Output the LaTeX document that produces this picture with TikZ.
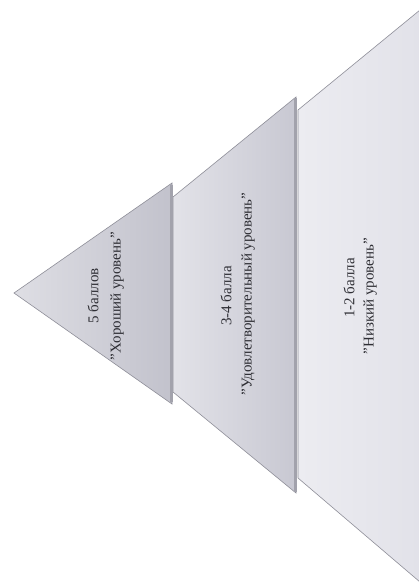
\documentclass[tikz,border=0pt]{standalone}
\usepackage{fontspec}
\setmainfont{Liberation Serif}
\definecolor{edgegray}{HTML}{8E8E98}
\definecolor{rimgray}{HTML}{A2A2AC}
\definecolor{txtgray}{HTML}{2E2E34}
\begin{document}
\begin{tikzpicture}[x=1pt,y=-1pt,
  tier/.style={draw=edgegray, line width=0.6pt, line join=miter},
  rim/.style={draw=rimgray, line width=2.4pt},
  lbl/.style={rotate=90, text=txtgray, inner sep=0pt, font=\fontsize{15}{18}\selectfont}]
\useasboundingbox (0,0) rectangle (419,582);
\fill[white] (0,0) rectangle (419,582);
% bottom tier (right)
\path[tier, left color={rgb,255:red,236;green,236;blue,241}, right color={rgb,255:red,226;green,226;blue,233}]
  (298,110) -- (420,10) -- (420,582) -- (298,478) -- cycle;
% middle tier
\path[tier, left color={rgb,255:red,226;green,226;blue,232}, right color={rgb,255:red,200;green,200;blue,210}]
  (173,197) -- (296,97) -- (296,493) -- (173,392) -- cycle;
\draw[rim] (295.5,98) -- (295.5,492);
% top tier (left)
\path[tier, left color={rgb,255:red,222;green,222;blue,228}, right color={rgb,255:red,194;green,194;blue,204}]
  (14,293) -- (172,183) -- (172,404) -- cycle;
\draw[rim] (171.5,185) -- (171.5,402);
% labels
\node[lbl] (a1) at (93,296) {5 баллов};
\node[lbl] (a2) at (117,296) {"Хороший уровень"};
\node[lbl] (b1) at (226,296) {3-4 балла};
\node[lbl] (b2) at (248,294) {"Удовлетворительный уровень"};
\node[lbl] (c1) at (349,288) {1-2 балла};
\node[lbl] (c2) at (370,296) {"Низкий уровень"};
\end{tikzpicture}
\end{document}
